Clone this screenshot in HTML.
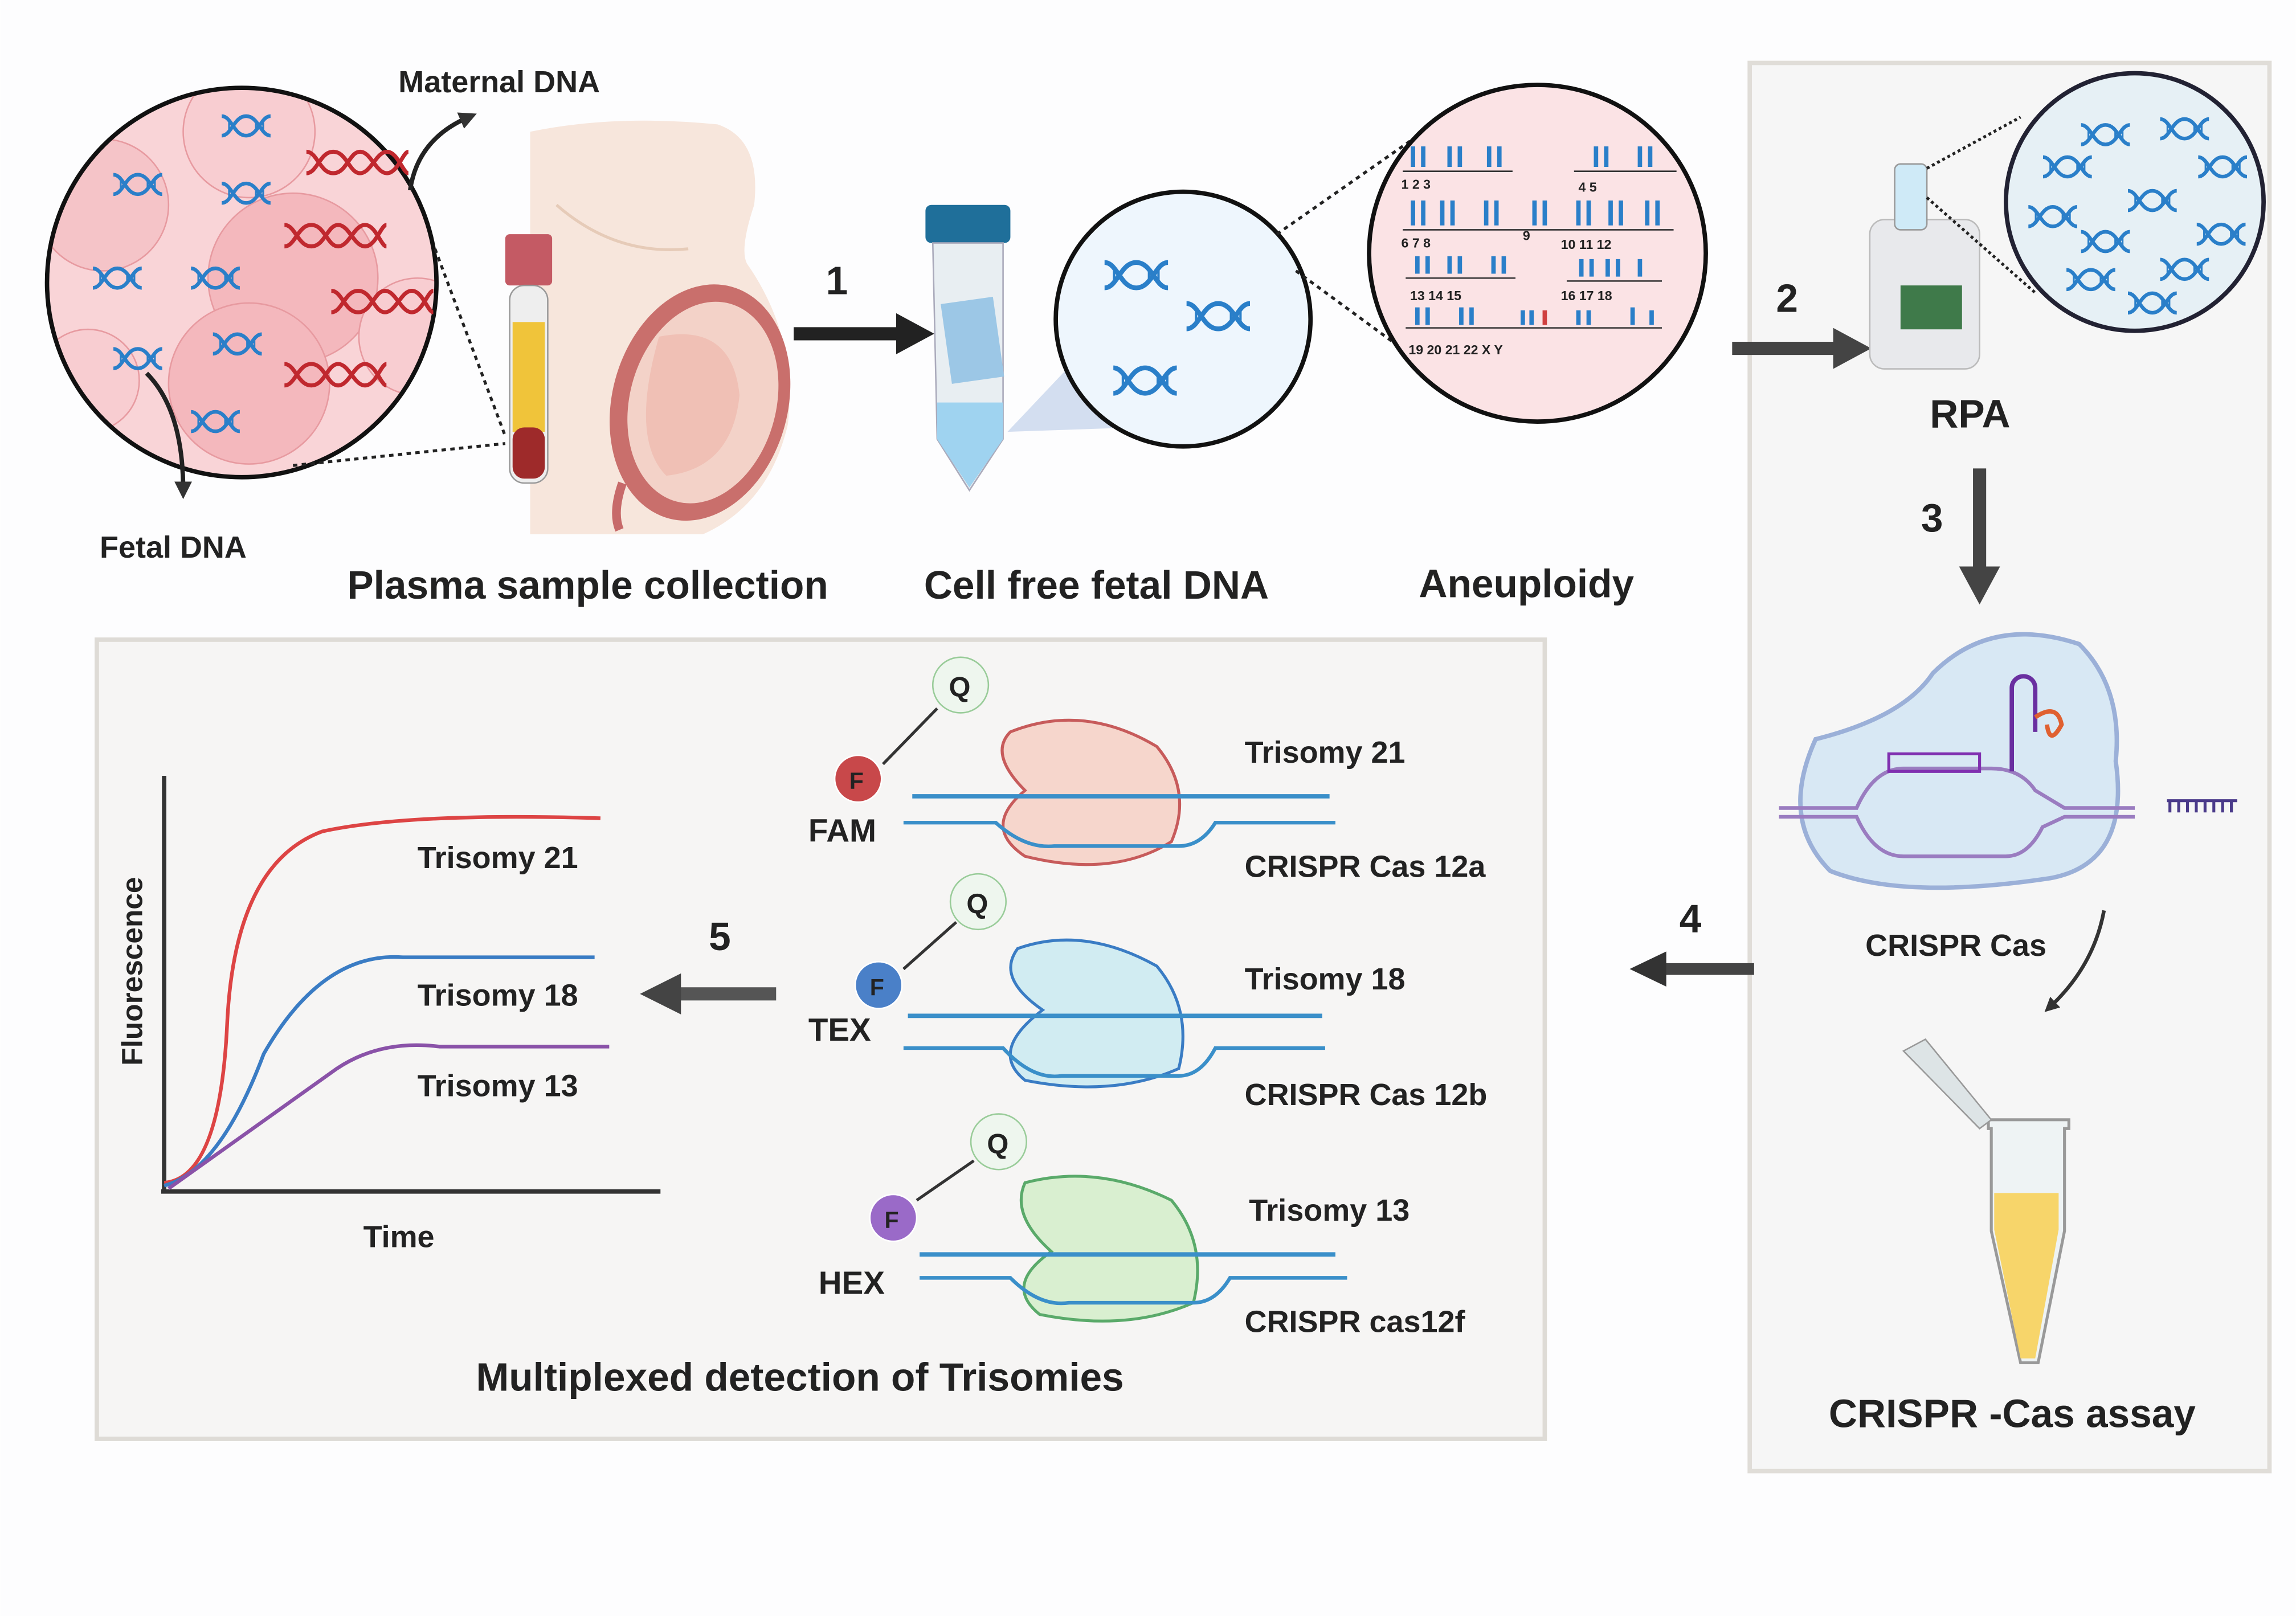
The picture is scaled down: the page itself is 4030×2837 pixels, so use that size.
<!DOCTYPE html>
<html><head><meta charset="utf-8"><style>
html,body{margin:0;padding:0;background:#fff}
svg{display:block}
text{font-family:"Liberation Sans",sans-serif;font-weight:bold;fill:#222}
</style></head><body>
<svg width="4030" height="2837" viewBox="0 0 1568 1104" xmlns="http://www.w3.org/2000/svg">
<defs>
<symbol id="dna" viewBox="0 0 44 24"><path d="M2 4 C10 4 12 20 22 20 S34 4 42 4" fill="none" stroke="#2a7fc9" stroke-width="3"/><path d="M2 20 C10 20 12 4 22 4 S34 20 42 20" fill="none" stroke="#2a7fc9" stroke-width="3"/><path d="M8 7v10M30 7v10M36 7v10" stroke="#2a7fc9" stroke-width="1.5"/></symbol>
<symbol id="rdna" viewBox="0 0 80 24"><path d="M2 4 C10 4 12 20 22 20 S34 4 42 4 S54 20 62 20 S74 4 78 4" fill="none" stroke="#c0282e" stroke-width="3"/><path d="M2 20 C10 20 12 4 22 4 S34 20 42 20 S54 4 62 4 S74 20 78 20" fill="none" stroke="#c0282e" stroke-width="3"/></symbol>
<marker id="ah" viewBox="0 0 10 10" refX="5" refY="5" markerWidth="4" markerHeight="4" orient="auto"><path d="M0 0L10 5L0 10z" fill="#333"/></marker>
<clipPath id="lc"><circle cx="165" cy="193" r="132"/></clipPath>
</defs>
<rect width="1568" height="1104" fill="#fdfdfe"/>
<rect x="1195" y="43" width="355" height="962" fill="#f6f6f6" stroke="#e0ddd8" stroke-width="3"/>
<rect x="66" y="437" width="989" height="546" fill="#f6f5f4" stroke="#dedbd6" stroke-width="3"/>
<!-- left circle -->
<circle cx="165" cy="193" r="133" fill="#f9d4d7"/>
<g clip-path="url(#lc)">
<circle cx="200" cy="190" r="58" fill="#f4b8bd" stroke="#e79aa0"/>
<circle cx="170" cy="262" r="55" fill="#f4b8bd" stroke="#e79aa0"/>
<circle cx="70" cy="140" r="45" fill="#f5c4c8" stroke="#e79aa0"/>
<circle cx="170" cy="90" r="45" fill="#f8cdd1" stroke="#e79aa0"/>
<circle cx="60" cy="260" r="35" fill="#f8cdd1" stroke="#e79aa0"/>
<circle cx="285" cy="230" r="40" fill="#f8cdd1" stroke="#e79aa0"/>
</g>
<circle cx="165" cy="193" r="133" fill="none" stroke="#111" stroke-width="3"/>
<use href="#dna" x="148" y="76" width="40" height="20"/><use href="#dna" x="74" y="116" width="40" height="20"/>
<use href="#dna" x="148" y="122" width="40" height="20"/><use href="#dna" x="60" y="180" width="40" height="20"/>
<use href="#dna" x="127" y="180" width="40" height="20"/><use href="#dna" x="142" y="225" width="40" height="20"/>
<use href="#dna" x="74" y="235" width="40" height="20"/><use href="#dna" x="127" y="278" width="40" height="20"/>
<use href="#rdna" x="205" y="100" width="78" height="22"/><use href="#rdna" x="190" y="150" width="78" height="22"/>
<use href="#rdna" x="222" y="195" width="78" height="22"/><use href="#rdna" x="190" y="245" width="78" height="22"/>
<path d="M280 130 Q285 95 320 80" fill="none" stroke="#222" stroke-width="3" marker-end="url(#ah)"/>
<path d="M100 255 Q125 280 125 335" fill="none" stroke="#222" stroke-width="3" marker-end="url(#ah)"/>
<text x="272" y="63" font-size="21">Maternal DNA</text>
<text x="68" y="381" font-size="21">Fetal DNA</text>
<line x1="297" y1="170" x2="345" y2="298" stroke="#222" stroke-width="2" stroke-dasharray="3,3"/>
<line x1="200" y1="318" x2="345" y2="303" stroke="#222" stroke-width="2" stroke-dasharray="3,3"/>
<!-- woman -->
<path d="M362 90 Q420 78 490 85 Q520 95 515 140 Q505 170 510 180 Q545 230 538 290 Q525 345 480 365 L362 365 Z" fill="#f7e6dc"/>
<path d="M380 140 Q420 175 470 170" fill="none" stroke="#e6cbb8" stroke-width="2"/>
<ellipse cx="478" cy="275" rx="60" ry="82" fill="#c96f6c" transform="rotate(15 478 275)"/>
<ellipse cx="480" cy="275" rx="50" ry="70" fill="#f3d2c8" transform="rotate(15 480 275)"/>
<path d="M450 230 Q500 220 505 270 Q500 320 455 325 Q430 300 450 230Z" fill="#f0c0b5"/>
<path d="M425 330 Q418 350 423 362" stroke="#c76a6a" stroke-width="6" fill="none"/>
<rect x="345" y="160" width="32" height="35" rx="3" fill="#c45a64"/>
<rect x="348" y="195" width="26" height="135" rx="10" fill="#eee" stroke="#999"/>
<rect x="350" y="220" width="22" height="75" fill="#f0c43a"/><rect x="350" y="292" width="22" height="35" rx="8" fill="#9e2a2a"/>
<text x="237" y="409" font-size="27">Plasma sample collection</text>
<line x1="542" y1="228" x2="615" y2="228" stroke="#222" stroke-width="9"/><path d="M612 214L638 228L612 242z" fill="#222"/>
<text x="564" y="201" font-size="27">1</text>
<!-- tube -->
<rect x="632" y="140" width="58" height="26" rx="4" fill="#1f6f9a"/>
<path d="M637 166 L685 166 L685 300 L662 335 L640 300 Z" fill="#e8eef2" stroke="#aab"/>
<path d="M640 275 L685 275 L685 300 L662 333 L640 300 Z" fill="#9fd3f0"/>
<rect x="646" y="205" width="36" height="55" fill="#9cc7e6" transform="rotate(-8 664 232)"/>
<path d="M688 295 L740 240 L775 292 Z" fill="#c8d6ec" opacity="0.8"/>
<circle cx="808" cy="218" r="87" fill="#eef6fd" stroke="#111" stroke-width="3"/>
<use href="#dna" x="750" y="175" width="52" height="26"/><use href="#dna" x="806" y="203" width="52" height="26"/><use href="#dna" x="756" y="247" width="52" height="26"/>
<text x="631" y="409" font-size="27">Cell free fetal DNA</text>
<line x1="872" y1="160" x2="965" y2="95" stroke="#222" stroke-width="2" stroke-dasharray="3,3"/>
<line x1="885" y1="185" x2="960" y2="240" stroke="#222" stroke-width="2" stroke-dasharray="3,3"/>
<circle cx="1050" cy="173" r="115" fill="#fbe3e5" stroke="#111" stroke-width="3"/>
<g stroke="#2a7fc9" stroke-width="3">
<path d="M965 100v14M972 100v14M990 100v14M997 100v14M1017 100v14M1024 100v14M1090 100v14M1097 100v14M1120 100v14M1127 100v14"/>
<path d="M965 137v17M972 137v17M985 137v17M992 137v17M1015 137v17M1022 137v17M1048 137v17M1055 137v17M1078 137v17M1085 137v17M1100 137v17M1107 137v17M1125 137v17M1132 137v17"/>
<path d="M968 175v12M975 175v12M990 175v12M997 175v12M1020 175v12M1027 175v12M1080 177v12M1087 177v12M1098 177v12M1105 177v12M1120 177v12"/>
<path d="M968 210v12M975 210v12M998 210v12M1005 210v12M1040 212v10M1046 212v10M1078 212v10M1085 212v10M1115 210v12M1128 212v10"/>
</g>
<path d="M1055 212v10" stroke="#d04040" stroke-width="3"/>
<g stroke="#333" stroke-width="1"><path d="M958 117h75M1075 117h70M958 157h185M960 190h75M1070 192h65M960 224h175"/></g>
<g font-size="9" font-weight="normal"><text x="957" y="129">1   2    3</text><text x="1078" y="131">4       5</text><text x="957" y="169">6    7    8</text><text x="1040" y="164">9</text><text x="1066" y="170">10  11   12</text><text x="963" y="205">13  14  15</text><text x="1066" y="205">16 17 18</text><text x="962" y="242">19     20        21       22        X  Y</text></g>
<text x="969" y="408" font-size="27">Aneuploidy</text>
<line x1="1183" y1="238" x2="1255" y2="238" stroke="#444" stroke-width="9"/><path d="M1252 224L1278 238L1252 252z" fill="#444"/>
<text x="1213" y="213" font-size="27">2</text>
<rect x="1277" y="150" width="75" height="102" rx="10" fill="#e8e9ec" stroke="#bbb"/>
<rect x="1298" y="195" width="42" height="30" fill="#3f7a4a"/>
<rect x="1294" y="112" width="22" height="45" rx="4" fill="#cfeaf7" stroke="#999"/>
<line x1="1316" y1="115" x2="1380" y2="80" stroke="#222" stroke-width="2" stroke-dasharray="2,2"/>
<line x1="1316" y1="135" x2="1390" y2="200" stroke="#222" stroke-width="2" stroke-dasharray="2,2"/>
<circle cx="1458" cy="138" r="88" fill="#e6f0f5" stroke="#223" stroke-width="3"/>
<use href="#dna" x="1418" y="82" width="40" height="20"/><use href="#dna" x="1472" y="78" width="40" height="20"/>
<use href="#dna" x="1392" y="104" width="40" height="20"/><use href="#dna" x="1498" y="104" width="40" height="20"/>
<use href="#dna" x="1450" y="127" width="40" height="20"/><use href="#dna" x="1382" y="138" width="40" height="20"/>
<use href="#dna" x="1418" y="155" width="40" height="20"/><use href="#dna" x="1497" y="150" width="40" height="20"/>
<use href="#dna" x="1408" y="181" width="40" height="20"/><use href="#dna" x="1472" y="174" width="40" height="20"/>
<use href="#dna" x="1450" y="197" width="40" height="20"/>
<text x="1318" y="292" font-size="27">RPA</text>
<line x1="1352" y1="320" x2="1352" y2="390" stroke="#444" stroke-width="9"/><path d="M1338 387L1352 413L1366 387z" fill="#444"/>
<text x="1312" y="363" font-size="27">3</text>
<path d="M1240 505 Q1300 490 1320 460 Q1360 420 1420 440 Q1450 470 1445 520 Q1455 590 1400 600 Q1300 615 1250 595 Q1215 560 1240 505Z" fill="#d8e8f4" stroke="#9bb0d8" stroke-width="3"/>
<path d="M1215 552 H1268 Q1280 525 1300 525 H1360 Q1380 525 1390 540 L1410 552 H1458" fill="none" stroke="#9a7cc0" stroke-width="2.5"/>
<path d="M1215 558 H1268 Q1280 585 1300 585 H1370 Q1385 585 1395 565 L1410 558 H1458" fill="none" stroke="#9a7cc0" stroke-width="2.5"/>
<path d="M1290 515h62v12h-62z" fill="none" stroke="#8030b0" stroke-width="2"/>
<path d="M1374 527 V470 a8 8 0 0 1 16 0 V500" fill="none" stroke="#6a2fa0" stroke-width="3"/>
<path d="M1390 490 q15 -10 18 5 q-8 15 -10 0" fill="none" stroke="#e06030" stroke-width="3"/>
<path d="M1480 547h48M1482 547v8M1488 547v8M1494 547v8M1500 547v8M1506 547v8M1512 547v8M1518 547v8M1524 547v8" stroke="#4a3a8a" stroke-width="2"/>
<text x="1274" y="653" font-size="21">CRISPR Cas</text>
<path d="M1437 622 Q1430 660 1400 688" fill="none" stroke="#333" stroke-width="2.5" marker-end="url(#ah)"/>
<path d="M1358 765h55v6h-3v70l-18 90h-12l-20-90v-70h-2z" fill="#eef3f4" stroke="#999" stroke-width="2"/>
<path d="M1362 815h44v25l-16 88h-10l-18-88z" fill="#f7d56a"/>
<path d="M1300 718 l15 -8 l45 55 l-8 6z" fill="#dde4e6" stroke="#999"/>
<text x="1249" y="975" font-size="27">CRISPR -Cas assay</text>
<line x1="1198" y1="662" x2="1135" y2="662" stroke="#444" stroke-width="8"/><path d="M1138 650L1113 662L1138 674z" fill="#333"/>
<text x="1147" y="637" font-size="27">4</text>
<line x1="530" y1="679" x2="460" y2="679" stroke="#555" stroke-width="9"/><path d="M465 665L437 679L465 693z" fill="#444"/>
<text x="484" y="649" font-size="27">5</text>
<line x1="112" y1="530" x2="112" y2="815" stroke="#333" stroke-width="3"/><line x1="110" y1="814" x2="451" y2="814" stroke="#333" stroke-width="3"/>
<path d="M112 808 Q150 805 155 700 Q160 590 220 568 Q280 555 410 559" fill="none" stroke="#d44" stroke-width="2.5"/>
<path d="M112 810 Q150 800 180 720 Q220 650 275 654 H406" fill="none" stroke="#3a7cc4" stroke-width="2.5"/>
<path d="M115 812 Q160 780 230 730 Q260 710 300 715 H416" fill="none" stroke="#8a52a8" stroke-width="2.5"/>
<text x="285" y="593" font-size="21">Trisomy 21</text><text x="285" y="687" font-size="21">Trisomy 18</text><text x="285" y="749" font-size="21">Trisomy 13</text>
<text x="248" y="852" font-size="21" fill="#444">Time</text>
<text transform="translate(97 728) rotate(-90)" font-size="20" fill="#444">Fluorescence</text>
<g>
<path d="M690 500 Q740 480 790 510 Q815 540 800 575 Q760 600 700 585 Q670 565 700 540 Q675 515 690 500Z" fill="#f6d6cc" stroke="#c75b5b" stroke-width="2"/>
<line x1="623" y1="544" x2="908" y2="544" stroke="#3a8fc9" stroke-width="3"/>
<path d="M617 562 H680 Q700 580 720 578 H805 Q820 578 830 562 H912" fill="none" stroke="#3a8fc9" stroke-width="2.5"/>
<circle cx="586" cy="532" r="16" fill="#c8484a" stroke="#fff"/><text x="580" y="539" font-size="16" font-weight="normal" fill="#fff">F</text>
<circle cx="656" cy="468" r="19" fill="#eef6ee" stroke="#9c9"/><text x="648" y="476" font-size="19" font-weight="normal">Q</text>
<line x1="603" y1="522" x2="640" y2="484" stroke="#333" stroke-width="2"/>
<text x="552" y="575" font-size="22">FAM</text><text x="850" y="521" font-size="21">Trisomy 21</text><text x="850" y="599" font-size="21">CRISPR Cas 12a</text>
</g>
<g>
<path d="M695 648 Q740 632 790 660 Q815 690 805 730 Q760 750 700 738 Q675 718 712 690 Q680 668 695 648Z" fill="#d1ecf2" stroke="#3a7cc4" stroke-width="2"/>
<line x1="620" y1="694" x2="903" y2="694" stroke="#3a8fc9" stroke-width="3"/>
<path d="M617 716 H685 Q705 738 725 735 H805 Q820 735 830 716 H905" fill="none" stroke="#3a8fc9" stroke-width="2.5"/>
<circle cx="600" cy="673" r="16" fill="#4a80c8" stroke="#fff"/><text x="594" y="680" font-size="16" font-weight="normal" fill="#fff">F</text>
<circle cx="668" cy="616" r="19" fill="#eef6ee" stroke="#9c9"/><text x="660" y="624" font-size="19" font-weight="normal">Q</text>
<line x1="617" y1="662" x2="653" y2="630" stroke="#333" stroke-width="2"/>
<text x="552" y="711" font-size="22">TEX</text><text x="850" y="676" font-size="21">Trisomy 18</text><text x="850" y="755" font-size="21">CRISPR Cas 12b</text>
</g>
<g>
<path d="M700 808 Q750 795 800 820 Q825 850 815 890 Q770 910 710 898 Q685 878 718 855 Q690 830 700 808Z" fill="#d9efd0" stroke="#5aaa6a" stroke-width="2"/>
<line x1="628" y1="857" x2="912" y2="857" stroke="#3a8fc9" stroke-width="3"/>
<path d="M628 873 H690 Q710 893 730 890 H815 Q830 890 840 873 H920" fill="none" stroke="#3a8fc9" stroke-width="2.5"/>
<circle cx="610" cy="832" r="16" fill="#9a6ac8" stroke="#fff"/><text x="604" y="839" font-size="16" font-weight="normal" fill="#fff">F</text>
<circle cx="682" cy="780" r="19" fill="#eef6ee" stroke="#9c9"/><text x="674" y="788" font-size="19" font-weight="normal">Q</text>
<line x1="626" y1="820" x2="665" y2="793" stroke="#333" stroke-width="2"/>
<text x="559" y="884" font-size="22">HEX</text><text x="853" y="834" font-size="21">Trisomy 13</text><text x="850" y="910" font-size="21">CRISPR cas12f</text>
</g>
<text x="325" y="950" font-size="27" fill="#555">Multiplexed detection of Trisomies</text>
</svg>
</body></html>
